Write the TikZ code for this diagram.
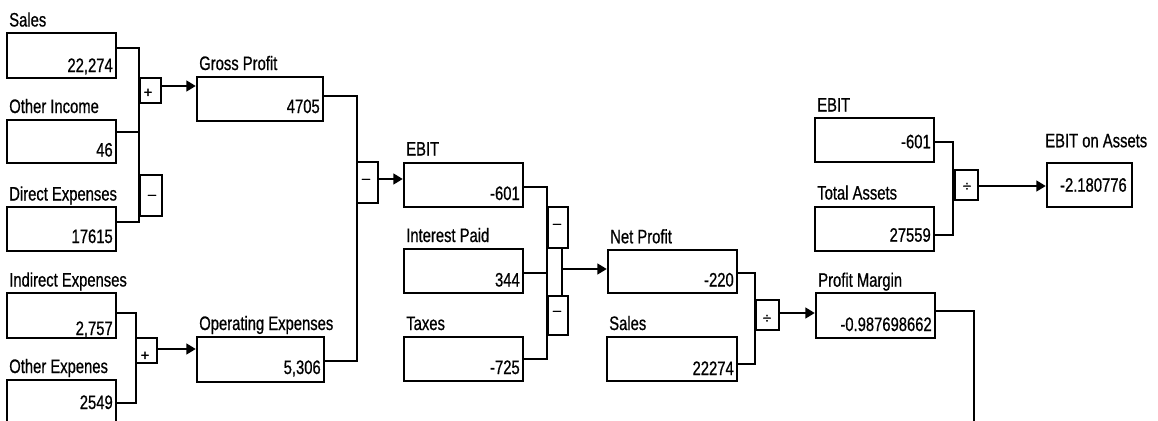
\documentclass[tikz,border=0pt]{standalone}
\usepackage{fontspec}
\setmainfont[FakeStretch=0.76,FakeBold=0.7]{Liberation Sans}
\newfontfamily\symfont[FakeBold=1.5]{Liberation Sans}
\usetikzlibrary{fit,arrows.meta}
\tikzset{
  databox/.style={draw, line width=1.8pt, inner sep=0pt},
  opbox/.style={draw, line width=0.9pt, inner sep=0pt},
  lbl/.style={inner sep=0pt, font=\fontsize{14.6}{17}\selectfont},
  sym/.style={inner sep=0pt, font=\symfont\fontsize{11}{13}\selectfont},
  conn/.style={line width=0.9pt},
  arr/.style={line width=1.5pt, -{Triangle[length=7pt,width=8pt]}}
}
% name, x1, y1, x2, y2, label, value, value baseline, label baseline
\newcommand\dbox[9]{%
  \node[databox, fit={(#2,#3) (#4,#5)}] (#1) {};
  \node[lbl, anchor=base west] (#1-l) at (#2+2,#9) {#6};
  \node[lbl, anchor=base east] (#1-v) at (#4-3,#8) {#7};
}
\begin{document}
\begin{tikzpicture}[x=0.75pt,y=-0.75pt]
\useasboundingbox (0,0) rectangle (1158,421);
\clip (0,0) rectangle (1158,421);

% data boxes
\dbox{sales}{7}{33}{116}{78}{Sales}{22,274}{72}{26.5}
\dbox{oinc}{7}{120}{116}{163}{Other Income}{46}{156.5}{113}
\dbox{direx}{7}{207}{116}{251}{Direct Expenses}{17615}{243}{200.5}
\dbox{indx}{7}{293}{116}{338}{Indirect Expenses}{2,757}{335}{286.5}
\dbox{oexp}{7}{380}{116}{424}{Other Expenes}{2549}{409}{373}
\dbox{gp}{197}{77}{323}{121}{Gross Profit}{4705}{113}{70}
\dbox{opex}{197}{337}{324}{382}{Operating Expenses}{5,306}{374}{330}
\dbox{ebit}{404}{163}{523}{207}{EBIT}{-601}{200}{155.5}
\dbox{intp}{404}{249}{523}{293}{Interest Paid}{344}{286.5}{242}
\dbox{tax}{404}{337}{523}{381}{Taxes}{-725}{374}{330}
\dbox{npro}{608}{250}{737}{293}{Net Profit}{-220}{286.5}{243.3}
\dbox{sal2}{607}{337}{737}{381}{Sales}{22274}{375}{330}
\dbox{pm}{816}{293}{935}{338}{Profit Margin}{-0.987698662}{331}{286.7}
\dbox{ebit2}{815}{118}{934}{162}{EBIT}{-601}{148.3}{111.5}
\dbox{tass}{815}{207}{934}{251}{Total Assets}{27559}{241.7}{199.5}
\node[databox, fit={(1047,163) (1132,207)}] (eoa) {};
\node[lbl, anchor=base west] (eoa-l) at (1045,147.3) {EBIT on Assets};
\node[lbl, anchor=base east] (eoa-v) at (1127,191.7) {-2.180776};

% operator boxes
\node[opbox, fit={(140,78) (161,103)}] (op1) {};
\node[sym] (op1-s) at (148,93) {+};
\node[opbox, fit={(140,175) (162,216)}] (op2) {};
\node[sym] (op2-s) at (152,197) {–};
\node[opbox, fit={(136,338) (157,363)}] (op3) {};
\node[sym] (op3-s) at (145,356) {+};
\node[opbox, fit={(357,162) (378,203)}] (op4) {};
\node[sym] (op4-s) at (366,181) {–};
\node[opbox, fit={(548,207) (568,248)}] (op5) {};
\node[sym] (op5-s) at (557,226) {–};
\node[opbox, fit={(548,296) (568,335)}] (op6) {};
\node[sym] (op6-s) at (557,313) {–};
\node[opbox, fit={(756,300) (779,330)}] (op7) {};
\node[sym] (op7-s) at (767,319) {÷};
\node[opbox, fit={(955,170) (978,200)}] (op8) {};
\node[sym] (op8-s) at (967,187) {÷};

% junction coordinates
\coordinate (j1a) at (139,48);
\coordinate (j1b) at (139,222);
\coordinate (j1c) at (139,132);
\coordinate (j2a) at (136,313);
\coordinate (j2b) at (136,403);
\coordinate (j3a) at (357,96);
\coordinate (j3b) at (357,361);
\coordinate (j4a) at (547,187);
\coordinate (j4b) at (547,359);
\coordinate (j4c) at (547,273);
\coordinate (j4d) at (562,248);
\coordinate (j4e) at (562,296);
\coordinate (j4f) at (562,269);
\coordinate (j5a) at (755,273);
\coordinate (j5b) at (755,364);
\coordinate (j6a) at (953,142);
\coordinate (j6b) at (953,235);
\coordinate (j7a) at (974,311);
\coordinate (j7b) at (974,430);

% connectors
\draw[conn] (sales.east |- j1a) -- (j1a) -- (j1b) -- (direx.east |- j1b);
\draw[conn] (oinc.east |- j1c) -- (j1c);
\draw[arr] (op1.east |- 0,86) -- (gp.west |- 0,86);

\draw[conn] (indx.east |- j2a) -- (j2a) -- (j2b) -- (oexp.east |- j2b);
\draw[arr] (op3.east |- 0,349) -- (opex.west |- 0,349);

\draw[conn] (gp.east |- j3a) -- (j3a) -- (j3b) -- (opex.east |- j3b);
\draw[arr] (op4.east |- 0,179) -- (ebit.west |- 0,179);

\draw[conn] (ebit.east |- j4a) -- (j4a) -- (j4b) -- (tax.east |- j4b);
\draw[conn] (intp.east |- j4c) -- (j4c);
\draw[conn] (j4d) -- (j4e);
\draw[arr] (j4f) -- (npro.west |- j4f);

\draw[conn] (npro.east |- j5a) -- (j5a) -- (j5b) -- (sal2.east |- j5b);
\draw[arr] (op7.east |- 0,313) -- (pm.west |- 0,313);

\draw[conn] (ebit2.east |- j6a) -- (j6a) -- (j6b) -- (tass.east |- j6b);
\draw[arr] (op8.east |- 0,186) -- (eoa.west |- 0,186);

\draw[conn] (pm.east |- j7a) -- (j7a) -- (j7b);
\end{tikzpicture}
\end{document}
